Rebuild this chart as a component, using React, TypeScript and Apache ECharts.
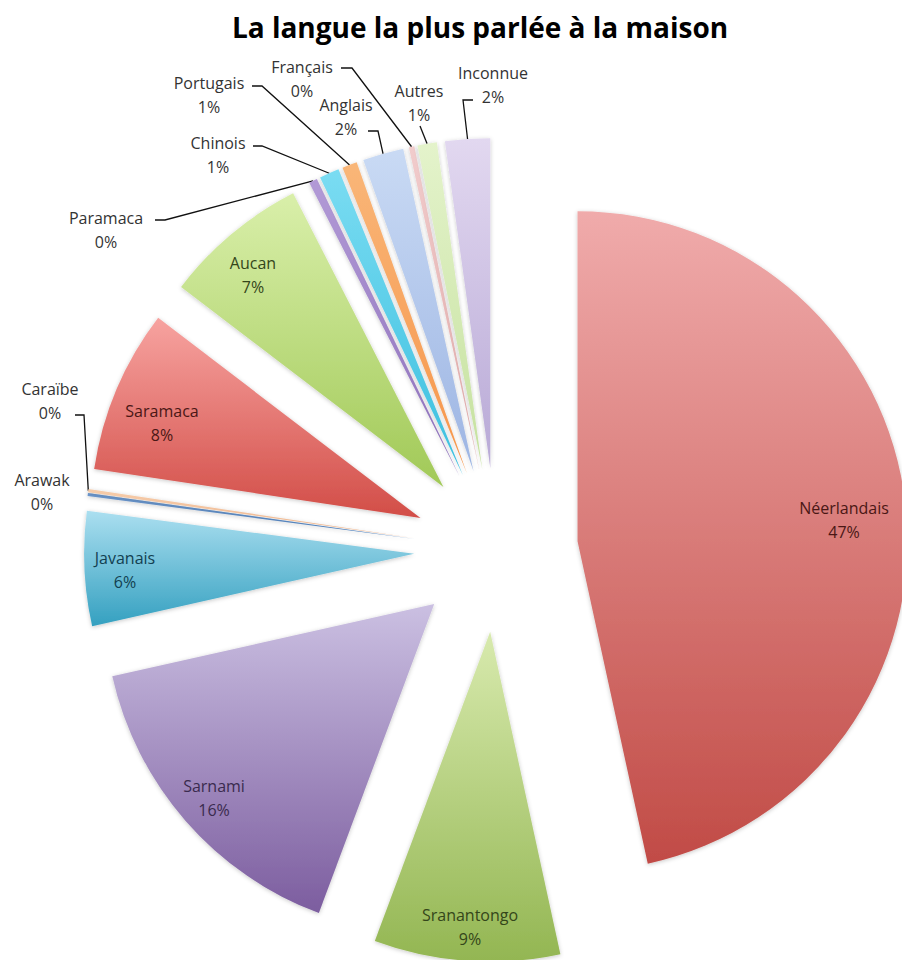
import React, { useEffect, useRef } from "react";
import * as echarts from "echarts";

const TITLE = "La langue la plus parlée à la maison";

const categories = [
  "Néerlandais",
  "Sranantongo",
  "Sarnami",
  "Javanais",
  "Arawak",
  "Caraïbe",
  "Saramaca",
  "Aucan",
  "Paramaca",
  "Chinois",
  "Portugais",
  "Anglais",
  "Français",
  "Autres",
  "Inconnue",
];

const shares = [46.6, 9.1, 15.8, 5.6, 0.15, 0.15, 8.0, 7.1, 0.41, 0.97, 0.73, 2.0, 0.27, 0.95, 2.2];

const topColors = [
  "#f0abab", "#d8eaae", "#cbc0e2", "#abdff0", "#6f9ad0", "#f6ccaa", "#f7a3a0", "#d9efaa",
  "#b29ad6", "#7adcf2", "#f9b678", "#c9daf4", "#f1cccc", "#e4f3cb", "#e2d8f0",
];
const bottomColors = [
  "#c14b46", "#93b652", "#7c5d9f", "#34a0c0", "#4f81bd", "#eeb48c", "#d24d47", "#a1c957",
  "#8d70bb", "#3bbfdf", "#f6954a", "#9db5e3", "#dfa8a7", "#c5e19e", "#b8a9d6",
];
const labelColors = [
  "#4a1715", "#34461a", "#3a2b4e", "#123f50", "#333", "#333", "#4a1715", "#34461a",
  "#333", "#333", "#333", "#333", "#333", "#333", "#333",
];

const insideNames = ["Néerlandais", "Sranantongo", "Sarnami", "Javanais", "Saramaca", "Aucan"];

const CENTER: [number, number] = [496, 550];
const RADIUS = 330;
const EXPLODE = 82;

// label block centres and leader-line bends (layout only)
const labelLayoutMap: Record<string, { x: number; y: number; bend?: [number, number][] }> = {
  "Néerlandais": { x: 844, y: 520 },
  Sranantongo: { x: 470, y: 927 },
  Sarnami: { x: 214, y: 798 },
  Javanais: { x: 125, y: 570 },
  Saramaca: { x: 162, y: 423 },
  Aucan: { x: 253, y: 275 },
  Arawak: { x: 42, y: 492 },
  "Caraïbe": { x: 50, y: 401, bend: [[84, 415], [75, 415]] },
  Paramaca: { x: 106, y: 230, bend: [[165, 220], [155, 220]] },
  Chinois: { x: 218, y: 155, bend: [[262, 146], [253, 146]] },
  Portugais: { x: 209, y: 95, bend: [[262, 86], [252, 86]] },
  "Français": { x: 302, y: 79, bend: [[352, 68], [341, 68]] },
  Anglais: { x: 346, y: 117, bend: [[378, 131], [368, 131]] },
  Autres: { x: 419, y: 103, bend: [[420, 126]] },
  Inconnue: { x: 493, y: 85, bend: [[463, 100], [473, 100]] },
};

export default function App() {
  const ref = useRef<HTMLDivElement>(null);
  useEffect(() => {
    if (!ref.current) return;
    const chart = echarts.init(ref.current, null, { renderer: "svg" });
    const sliceData = categories.map((name, i) => ({
      name,
      value: shares[i],
      selected: true,
      itemStyle: {
        color: new echarts.graphic.LinearGradient(0, 0, 0, 1, [
          { offset: 0, color: topColors[i] },
          { offset: 1, color: bottomColors[i] },
        ]),
      },
    }));
    const labelData = categories.map((name, i) => {
      const inside = insideNames.includes(name);
      return {
        name,
        value: shares[i],
        label: {
          position: inside ? "inside" : "outside",
          color: labelColors[i],
        },
        labelLine: { show: !inside && name !== "Arawak" },
      };
    });
    chart.setOption({
      animation: false,
      title: {
        text: TITLE,
        left: 475,
        top: 8,
        textAlign: "center",
        textStyle: {
          fontFamily: "Open Sans",
          fontWeight: 700,
          fontSize: 28,
          color: "#000",
        },
      },
      series: [
        {
          type: "pie",
          center: CENTER,
          radius: [0, RADIUS],
          startAngle: 90,
          clockwise: true,
          selectedMode: "multiple",
          selectedOffset: EXPLODE,
          silent: true,
          emphasis: { disabled: true },
          label: { show: false },
          labelLine: { show: false },
          itemStyle: {
            shadowBlur: 4,
            shadowColor: "rgba(0,0,0,0.22)",
            shadowOffsetY: 1,
          },
          data: sliceData,
        },
        {
          type: "pie",
          center: CENTER,
          radius: [0, RADIUS],
          startAngle: 90,
          clockwise: true,
          silent: true,
          avoidLabelOverlap: false,
          emphasis: { disabled: true },
          itemStyle: { color: "rgba(0,0,0,0)" },
          label: {
            fontFamily: "Open Sans",
            fontSize: 16,
            lineHeight: 24,
            align: "center",
            formatter: (p: any) => `${p.name}\n${Math.round(p.percent)}%`,
          },
          labelLine: {
            lineStyle: { color: "#111", width: 1.3 },
            length: 20,
            length2: 10,
          },
          labelLayout: (params: any) => {
            const name = categories[params.dataIndex];
            const cfg = labelLayoutMap[name];
            if (!cfg) return {};
            const out: any = { x: cfg.x, y: cfg.y, align: "center", verticalAlign: "middle" };
            if (cfg.bend && params.labelLinePoints) {
              const p0 = params.labelLinePoints[0];
              const dx = p0[0] - CENTER[0];
              const dy = p0[1] - CENTER[1];
              const len = Math.sqrt(dx * dx + dy * dy) || 1;
              const start = [p0[0] + (dx / len) * EXPLODE, p0[1] + (dy / len) * EXPLODE];
              out.labelLinePoints = [start, ...cfg.bend];
            }
            return out;
          },
          data: labelData,
        },
      ],
    });
    return () => chart.dispose();
  }, []);
  return (
    <div
      ref={ref}
      style={{ position: "absolute", left: 0, top: 0, width: "902px", height: "960px" }}
    />
  );
}
